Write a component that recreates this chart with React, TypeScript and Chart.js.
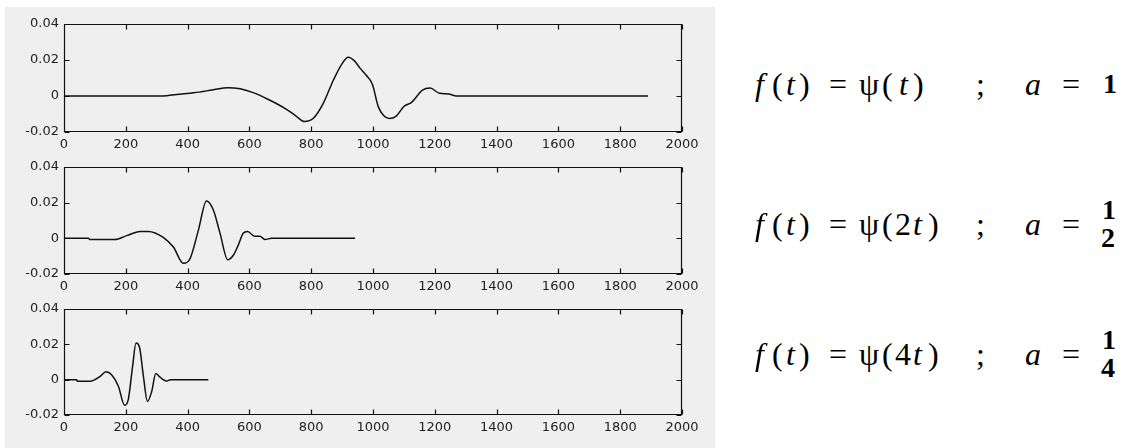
import React, { useEffect, useRef } from 'react';
import { Chart, registerables } from 'chart.js';

Chart.register(...registerables);

// ---- tick values ----
const xTicks = [0, 200, 400, 600, 800, 1000, 1200, 1400, 1600, 1800, 2000];
const yTicks = [-0.02, 0, 0.02, 0.04];

// ---- f(t) = psi(t), a = 1 ----
const t1 = [0, 150, 320, 365, 420, 480, 530, 570, 610, 660, 720, 750, 778, 807, 839, 872, 900, 920, 940, 958, 978, 998, 1017, 1035, 1052, 1075, 1100, 1125, 1160, 1185, 1215, 1245, 1270, 1890];
const v1 = [0, 0, 0, 0.0009, 0.0018, 0.0033, 0.0046, 0.004, 0.002, -0.0018, -0.0074, -0.011, -0.0142, -0.0124, -0.0041, 0.0089, 0.018, 0.0215, 0.0195, 0.0155, 0.0115, 0.0065, -0.0059, -0.011, -0.0125, -0.0112, -0.0058, -0.0035, 0.0033, 0.0044, 0.0015, 0.0011, 0, 0];

// ---- f(t) = psi(2t), a = 1/2 ----
const t2 = [0, 79, 84, 165, 203, 246, 273, 321, 354, 386, 408, 435, 461, 483, 505, 530, 548, 564, 580, 594, 618, 634, 650, 672, 942];
const v2 = [0, 0, -0.0007, -0.0007, 0.0015, 0.0039, 0.0039, 0.0006, -0.0049, -0.014, -0.0114, 0.0046, 0.021, 0.016, 0.0028, -0.012, -0.0095, -0.0038, 0.0028, 0.0038, 0.0011, 0.0011, -0.0006, 0, 0];

// ---- f(t) = psi(4t), a = 1/4 ----
const t3 = [0, 41, 43, 84, 117, 136, 154, 176, 196, 208, 222, 233, 244, 257, 270, 284, 297, 308, 321, 332, 345, 467];
const v3 = [0, 0, -0.0009, -0.0009, 0.0019, 0.0045, 0.0028, -0.0037, -0.0145, -0.0113, 0.0075, 0.0207, 0.0186, 0.0019, -0.0123, -0.0066, 0.0035, 0.0019, 0, -0.0008, 0, 0];

const framePlugin = {
  id: 'matlabFrame',
  afterDraw(chart: any) {
    const { ctx, chartArea: a, scales } = chart;
    const L = Math.round(a.left) + 0.5;
    const R = Math.round(a.right) - 0.5;
    const T = Math.round(a.top) + 0.5;
    const B = Math.round(a.bottom) - 0.5;
    ctx.save();
    ctx.strokeStyle = '#111';
    ctx.lineWidth = 1.2;
    ctx.beginPath();
    ctx.rect(L, T, R - L, B - T);
    const len = 5;
    scales.x.ticks.forEach((tk: any) => {
      const px = Math.round(scales.x.getPixelForValue(tk.value)) + 0.5;
      ctx.moveTo(px, B); ctx.lineTo(px, B - len);
      ctx.moveTo(px, T); ctx.lineTo(px, T + len);
    });
    scales.y.ticks.forEach((tk: any) => {
      const py = Math.round(scales.y.getPixelForValue(tk.value)) + 0.5;
      ctx.moveTo(L, py); ctx.lineTo(L + len, py);
      ctx.moveTo(R, py); ctx.lineTo(R - len, py);
    });
    ctx.stroke();
    ctx.restore();
  },
};

const tickFont = { family: '"DejaVu Sans", sans-serif', size: 13 };

function Plot({ top, height, t, v }: { top: number; height: number; t: number[]; v: number[] }) {
  const ref = useRef<HTMLCanvasElement | null>(null);
  useEffect(() => {
    const chart = new Chart(ref.current as HTMLCanvasElement, {
      type: 'scatter',
      data: {
        datasets: [
          {
            data: t.map((x, i) => ({ x, y: v[i] })),
            showLine: true,
            borderColor: '#111',
            borderWidth: 1.5,
            pointRadius: 0,
            fill: false,
            cubicInterpolationMode: 'monotone',
          } as any,
        ],
      },
      options: {
        animation: false,
        responsive: false,
        devicePixelRatio: 1,
        layout: { padding: { left: 0, right: 33, top: 20, bottom: 0 } },
        plugins: { legend: { display: false }, tooltip: { enabled: false } },
        scales: {
          x: {
            type: 'linear',
            min: 0,
            max: 2000,
            afterBuildTicks: (s: any) => { s.ticks = xTicks.map((value) => ({ value })); },
            afterFit: (s: any) => { s.height = 22; },
            grid: { display: false, drawTicks: false },
            border: { display: false },
            ticks: {
              font: tickFont,
              color: '#222',
              padding: 5,
              maxRotation: 0,
              autoSkip: false,
              callback: (val: any) => String(val),
            },
          },
          y: {
            type: 'linear',
            min: -0.02,
            max: 0.04,
            afterBuildTicks: (s: any) => { s.ticks = yTicks.map((value) => ({ value })); },
            afterFit: (s: any) => { s.width = 64; },
            grid: { display: false, drawTicks: false },
            border: { display: false },
            ticks: {
              font: tickFont,
              color: '#222',
              padding: 5,
              callback: (val: any) => (Number(val) === 0 ? '0' : Number(val).toFixed(2)),
            },
          },
        },
      },
      plugins: [framePlugin],
    } as any);
    return () => chart.destroy();
  }, []);
  return (
    <canvas
      ref={ref}
      width={715}
      height={height}
      style={{ position: 'absolute', left: 0, top, width: 715, height }}
    />
  );
}

const serif = '"Liberation Serif", "DejaVu Serif", serif';

function G({ ch, x, cy, size = 32, italic = false, bold = false }: { ch: string; x: number; cy: number; size?: number; italic?: boolean; bold?: boolean }) {
  return (
    <span
      style={{
        position: 'absolute',
        left: x,
        top: cy - 0.6 * size,
        fontSize: size,
        lineHeight: `${size}px`,
        fontFamily: serif,
        fontStyle: italic ? 'italic' : 'normal',
        fontWeight: bold ? 'bold' : 'normal',
        whiteSpace: 'pre',
        color: '#000',
      }}
    >
      {ch}
    </span>
  );
}

function Formula({ cy, arg, frac }: { cy: number; arg: string; frac: string | null }) {
  return (
    <>
      <G ch="f" x={755} cy={cy} italic />
      <G ch="(" x={772} cy={cy} />
      <G ch="t" x={786} cy={cy} italic />
      <G ch=")" x={799} cy={cy} />
      <G ch="=" x={829} cy={cy} />
      <G ch={'\u03C8'} x={859} cy={cy} />
      <G ch="(" x={882} cy={cy} />
      {arg ? <G ch={arg} x={895} cy={cy} /> : null}
      <G ch="t" x={arg ? 913 : 899} cy={cy} italic />
      <G ch=")" x={arg ? 928 : 913} cy={cy} />
      <G ch=";" x={976} cy={cy} />
      <G ch="a" x={1025} cy={cy} italic />
      <G ch="=" x={1062} cy={cy} />
      {frac ? (
        <>
          <G ch="1" x={1102} cy={cy - 14} size={28} bold />
          <G ch={frac} x={1101} cy={cy + 14} size={28} bold />
        </>
      ) : (
        <G ch="1" x={1103} cy={cy} size={28} bold />
      )}
    </>
  );
}

export default function App() {
  return (
    <div style={{ position: 'absolute', left: 0, top: 0, width: 1126, height: 448, background: '#fff', overflow: 'hidden' }}>
      <div style={{ position: 'absolute', left: 5, top: 7, width: 710, height: 441, background: '#efefef' }} />
      <Plot top={4} height={150} t={t1} v={v1} />
      <Plot top={147} height={149} t={t2} v={v2} />
      <Plot top={289} height={148} t={t3} v={v3} />
      <Formula cy={87} arg="" frac={null} />
      <Formula cy={227} arg="2" frac="2" />
      <Formula cy={357} arg="4" frac="4" />
    </div>
  );
}
